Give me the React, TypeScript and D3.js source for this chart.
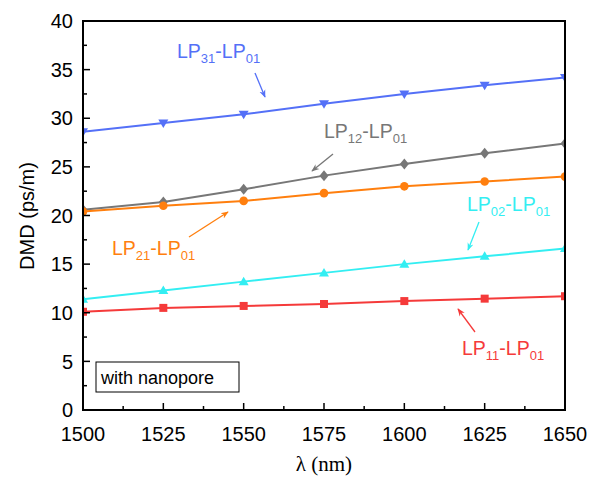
import React from "react";
import * as d3 from "d3";

const WAVELENGTHS = [1500, 1525, 1550, 1575, 1600, 1625, 1650];
const LP31 = [28.6, 29.5, 30.4, 31.5, 32.5, 33.4, 34.2];
const LP12 = [20.6, 21.4, 22.7, 24.1, 25.3, 26.4, 27.4];
const LP21 = [20.4, 21.0, 21.5, 22.3, 23.0, 23.5, 24.0];
const LP02 = [11.4, 12.3, 13.2, 14.1, 15.0, 15.8, 16.6];
const LP11 = [10.1, 10.5, 10.7, 10.9, 11.2, 11.45, 11.7];
const X_TICKS = [1500, 1525, 1550, 1575, 1600, 1625, 1650];
const Y_TICKS = [0, 5, 10, 15, 20, 25, 30, 35, 40];

const SERIES = [
  { name: ["31", "01"], values: LP31, color: "#5470f7", symbol: "triDown", label: [177, 58], arrow: [255, 73, 265, 97] },
  { name: ["12", "01"], values: LP12, color: "#777777", symbol: "diamond", label: [324, 138], arrow: [333, 154, 312, 171] },
  { name: ["21", "01"], values: LP21, color: "#ff7f0e", symbol: "circle", label: [112, 255], arrow: [189, 237, 228, 212] },
  { name: ["02", "01"], values: LP02, color: "#33eef2", symbol: "triUp", label: [467, 211], arrow: [479, 222, 468, 250] },
  { name: ["11", "01"], values: LP11, color: "#f53a3a", symbol: "square", label: [462, 355], arrow: [475, 332, 458, 309] },
];

const margin = { top: 21, right: 37, bottom: 68, left: 83 };
const W = 602, H = 478;
const iw = W - margin.left - margin.right;
const ih = H - margin.top - margin.bottom;

function marker(kind: string, color: string) {
  const s = 4.5;
  if (kind === "circle") return <circle r={4.3} fill={color} />;
  if (kind === "square") return <rect x={-4} y={-4} width={8} height={8} fill={color} />;
  if (kind === "diamond") return <path d={`M0,${-s - 1}L${s},0L0,${s + 1}L${-s},0Z`} fill={color} />;
  if (kind === "triUp") return <path d={`M0,${-s - 0.5}L${s + 0.5},${s - 1}L${-s - 0.5},${s - 1}Z`} fill={color} />;
  return <path d={`M0,${s + 0.5}L${s + 0.5},${-s + 1}L${-s - 0.5},${-s + 1}Z`} fill={color} />;
}

export default function App() {
  const x = d3.scaleLinear().domain([1500, 1650]).range([0, iw]);
  const y = d3.scaleLinear().domain([0, 40]).range([ih, 0]);
  const line = d3.line<number>().x((_, i) => x(WAVELENGTHS[i])).y((d) => y(d));
  const minorX = d3.range(1512.5, 1650, 25);
  const minorY = d3.range(2.5, 40, 5);
  const font = "Arial, 'Liberation Sans', sans-serif";

  return (
    <svg width={W} height={H} style={{ position: "absolute", left: 0, top: 0, background: "#fff" }} fontFamily={font}>
      <defs>
        <clipPath id="plot">
          <rect x={0} y={0} width={iw} height={ih} />
        </clipPath>
        {SERIES.map((s, i) => (
          <marker key={i} id={`ah${i}`} viewBox="0 0 10 10" refX={9} refY={5} markerWidth={6} markerHeight={6} orient="auto">
            <path d="M0,1L10,5L0,9L3,5Z" fill={s.color} />
          </marker>
        ))}
      </defs>
      <g transform={`translate(${margin.left},${margin.top})`}>
        <g clipPath="url(#plot)">
          {SERIES.map((s, i) => (
            <g key={i}>
              <path d={line(s.values) || ""} fill="none" stroke={s.color} strokeWidth={2} />
              {s.values.map((v, j) => (
                <g key={j} transform={`translate(${x(WAVELENGTHS[j])},${y(v)})`}>
                  {marker(s.symbol, s.color)}
                </g>
              ))}
            </g>
          ))}
        </g>
        {X_TICKS.map((t) => (
          <g key={t} transform={`translate(${x(t)},${ih})`}>
            <line y1={0} y2={-7} stroke="#000" strokeWidth={1.5} />
            <text y={31} textAnchor="middle" fontSize={20} fill="#000">{t}</text>
          </g>
        ))}
        {minorX.map((t) => (
          <line key={t} x1={x(t)} x2={x(t)} y1={ih} y2={ih - 4} stroke="#000" strokeWidth={1.5} />
        ))}
        {Y_TICKS.map((t) => (
          <g key={t} transform={`translate(0,${y(t)})`}>
            <line x1={0} x2={7} stroke="#000" strokeWidth={1.5} />
            <text x={-10} dy="0.36em" textAnchor="end" fontSize={20} fill="#000">{t}</text>
          </g>
        ))}
        {minorY.map((t) => (
          <line key={t} x1={0} x2={4} y1={y(t)} y2={y(t)} stroke="#000" strokeWidth={1.5} />
        ))}
        <rect x={0} y={0} width={iw} height={ih} fill="none" stroke="#000" strokeWidth={2} />
      </g>
      {SERIES.map((s, i) => (
        <g key={i}>
          <text x={s.label[0]} y={s.label[1]} fontSize={19.5} fill={s.color}>
            LP<tspan fontSize={13} dy={5}>{s.name[0]}</tspan>
            <tspan dy={-5}>-LP</tspan>
            <tspan fontSize={13} dy={5}>{s.name[1]}</tspan>
          </text>
          <line x1={s.arrow[0]} y1={s.arrow[1]} x2={s.arrow[2]} y2={s.arrow[3]} stroke={s.color} strokeWidth={1.3} markerEnd={`url(#ah${i})`} />
        </g>
      ))}
      <rect x={96} y={362} width={143} height={30} fill="#fff" stroke="#000" strokeWidth={1} />
      <text x={101} y={384} fontSize={18} fill="#000">with nanopore</text>
      <text transform="translate(34,216) rotate(-90)" textAnchor="middle" fontSize={20} fill="#000">DMD (ps/m)</text>
      <text x={324} y={471} textAnchor="middle" fontSize={21} fill="#000" fontFamily="'Liberation Serif', 'Times New Roman', serif">λ (nm)</text>
    </svg>
  );
}
